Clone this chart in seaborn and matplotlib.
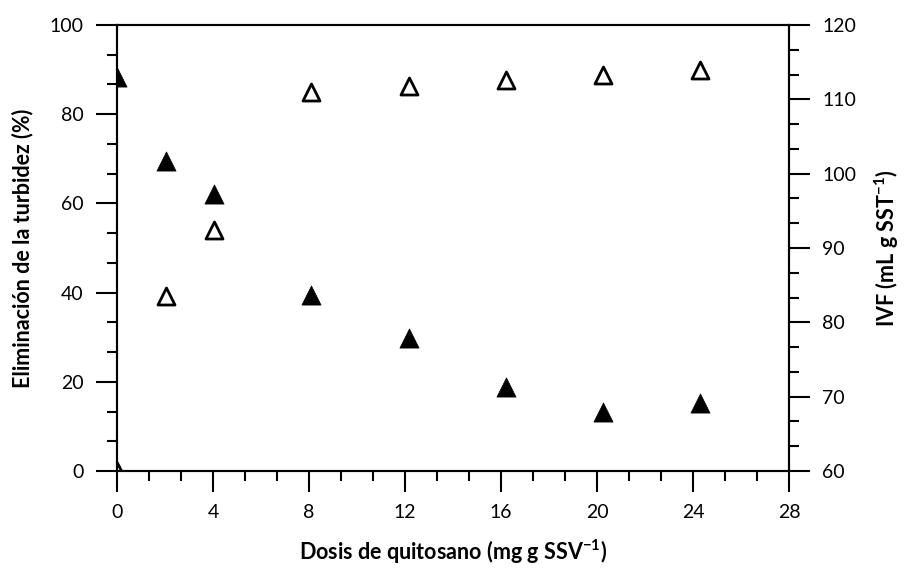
import matplotlib
matplotlib.use("Agg")
import matplotlib.pyplot as plt
import seaborn as sns
import pandas as pd
from matplotlib.ticker import MultipleLocator

# dosis de quitosano (mg g SSV-1)
dosis = [0, 2.025, 4.05, 8.1, 12.15, 16.2, 20.25, 24.3]
# eliminacion de la turbidez (%), triangulos abiertos, eje izquierdo
turbidez = [0, 39.2, 54.0, 84.9, 86.4, 87.7, 88.8, 89.8]
# IVF (mL g SST-1), triangulos llenos, eje derecho
ivf = [113.0, 101.7, 97.2, 83.7, 77.9, 71.3, 67.9, 69.1]

df = pd.DataFrame({"dosis": dosis, "turbidez": turbidez, "ivf": ivf})

sns.set_theme(style="white")
plt.rcParams["font.family"] = ["Lato", "DejaVu Sans"]
plt.rcParams["mathtext.fontset"] = "custom"
plt.rcParams["mathtext.bf"] = "Lato:bold"
plt.rcParams["text.color"] = "black"
plt.rcParams["axes.labelcolor"] = "black"
plt.rcParams["xtick.color"] = "black"
plt.rcParams["ytick.color"] = "black"

fig = plt.figure(figsize=(9.06, 5.72), dpi=100)
ax = fig.add_axes([0.1291, 0.1766, 0.7418, 0.7797])
ax2 = ax.twinx()

sns.scatterplot(data=df, x="dosis", y="turbidez", ax=ax, marker="^", s=150,
                facecolor="white", edgecolor="black", linewidth=2, zorder=3)
sns.scatterplot(data=df, x="dosis", y="ivf", ax=ax2, marker="^", s=190,
                color="black", edgecolor="black", linewidth=0.5, zorder=3)

ax.set_xlim(0, 28)
ax.set_ylim(0, 100)
ax2.set_ylim(60, 120)

ax.xaxis.set_major_locator(MultipleLocator(4))
ax.xaxis.set_minor_locator(MultipleLocator(4 / 3))
ax.yaxis.set_major_locator(MultipleLocator(20))
ax.yaxis.set_minor_locator(MultipleLocator(20 / 3))
ax2.yaxis.set_major_locator(MultipleLocator(10))
ax2.yaxis.set_minor_locator(MultipleLocator(10 / 3))

for a in (ax, ax2):
    for sp in a.spines.values():
        sp.set_linewidth(1.5)
        sp.set_color("black")
    a.tick_params(which="major", direction="out", length=15, width=1.5,
                  color="black", labelsize=14, pad=9)
    a.tick_params(which="minor", direction="out", length=7.5, width=1.5,
                  color="black")

ax.tick_params(axis="y", which="both", left=True, right=False)
ax.tick_params(axis="x", which="both", bottom=True, top=False)
ax2.tick_params(axis="y", which="both", right=True, left=False)

ax.set_xlabel("Dosis de quitosano (mg g SSV$^{\\mathbf{-1}}$)", fontsize=15.5,
              fontweight="bold", labelpad=12)
ax.set_ylabel("Eliminación de la turbidez (%)", fontsize=15.5,
              fontweight="bold", labelpad=12)
ax2.set_ylabel("IVF (mL g SST$^{\\mathbf{-1}}$)", fontsize=15.5,
               fontweight="bold", labelpad=12, rotation=90)

fig.savefig("out.png", dpi=100)
